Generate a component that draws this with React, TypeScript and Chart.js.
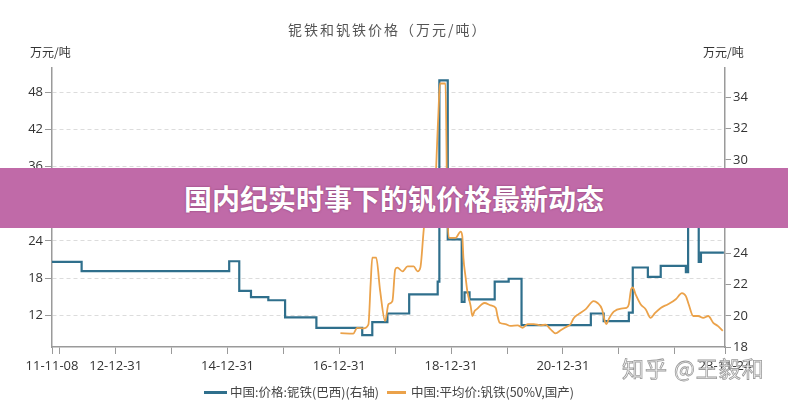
import React, { useEffect, useRef } from "react";
import { Chart, registerables } from "chart.js";

Chart.register(...registerables);

const chartTitle = "铌铁和钒铁价格（万元/吨）";
const unitLabel = "万元/吨";
const bannerText = "国内纪实时事下的钒价格最新动态";
const watermarkText = "知乎 @王毅和";
const niobiumName = "中国:价格:铌铁(巴西)(右轴)";
const vanadiumName = "中国:平均价:钒铁(50%V,国产)";

// time as decimal years (2013.00 = end of 2012-12-31)
const niobiumTime = [
  2011.86, 2012.39, 2015.03, 2015.21, 2015.42, 2015.73, 2016.03, 2016.59, 2017.41, 2017.59,
  2017.86, 2018.25, 2018.76, 2018.79, 2018.94, 2019.19, 2019.24, 2019.33, 2019.78, 2020.03,
  2020.26, 2021.5, 2021.73, 2022.18, 2022.25, 2022.52, 2022.75, 2023.2, 2023.24, 2023.43,
  2023.47, 2023.88,
];
const niobiumPrice = [
  23.46, 22.87, 23.5, 21.6, 21.2, 21.0, 19.9, 19.23, 18.76, 19.6,
  20.15, 21.37, 22.2, 35.1, 24.9, 20.9, 21.5, 21.06, 22.2, 22.38,
  19.4, 20.15, 19.66, 20.2, 23.1, 22.5, 23.2, 22.8, 26.0, 23.46,
  24.06, 24.06,
];

const vanadiumTime = [
  2017.02, 2017.25, 2017.32, 2017.43, 2017.52, 2017.56, 2017.59, 2017.66, 2017.73, 2017.82,
  2017.88, 2017.95, 2018.0, 2018.04, 2018.13, 2018.22, 2018.33, 2018.4, 2018.45, 2018.52,
  2018.58, 2018.68, 2018.77, 2018.8, 2018.9, 2018.93, 2018.96, 2019.08, 2019.17, 2019.2,
  2019.22, 2019.26, 2019.29, 2019.35, 2019.38, 2019.42, 2019.46, 2019.55, 2019.6, 2019.71,
  2019.8, 2019.83, 2019.87, 2019.97, 2020.06, 2020.19, 2020.28, 2020.37, 2020.48, 2020.6,
  2020.69, 2020.78, 2020.87, 2020.96, 2021.05, 2021.14, 2021.19, 2021.28, 2021.41, 2021.55,
  2021.62, 2021.7, 2021.75, 2021.78, 2021.82, 2021.91, 2022.04, 2022.14, 2022.18, 2022.22,
  2022.25, 2022.3, 2022.39, 2022.48, 2022.57, 2022.65, 2022.75, 2022.88, 2023.02, 2023.13,
  2023.2, 2023.25, 2023.33, 2023.42, 2023.51, 2023.6, 2023.69, 2023.77, 2023.86,
];
const vanadiumPrice = [
  9.15, 9.05, 10.0, 9.9, 10.5, 17.0, 21.3, 21.3, 16.0, 11.1,
  13.8, 14.3, 19.4, 19.7, 19.1, 19.9, 19.9, 19.1, 19.7, 26.6,
  27.8, 28.0, 44.0, 49.4, 49.4, 30.0, 24.5, 24.5, 25.5, 24.8,
  21.3, 18.1, 15.9, 13.5, 11.9, 12.7, 13.0, 13.8, 14.0, 13.6,
  13.2, 11.9, 10.8, 10.6, 10.3, 10.4, 10.0, 10.6, 10.6, 10.4,
  10.5, 9.75, 9.1, 9.6, 10.1, 10.6, 11.5, 12.2, 13.0, 14.3,
  14.0, 13.0, 11.1, 10.6, 11.4, 12.6, 13.1, 13.2, 13.8, 16.2,
  16.5, 15.4, 13.8, 13.0, 11.6, 12.4, 13.2, 13.8, 14.6, 15.6,
  15.1, 13.8, 11.9, 11.9, 11.6, 11.9, 10.8, 10.3, 9.5,
];

const xMin = 2011.86;
const xMax = 2023.9;
const xTickValues = [2011.86, 2012, 2013, 2014, 2015, 2016, 2017, 2018, 2019, 2020, 2021, 2022, 2023, 2023.9];
const xTickLabels = ["11-11-08", "", "12-12-31", "", "14-12-31", "", "16-12-31", "", "18-12-31", "", "20-12-31", "", "", "23-11-24"];
const leftTicks = [12, 18, 24, 30, 36, 42, 48];
const rightTicks = [18, 20, 22, 24, 26, 28, 30, 32, 34];

const BLUE = "#2f6f8c";
const ORANGE = "#eba24a";
const AXIS = "#9a9a9a";
const tickFont = { family: "'Open Sans', 'Noto Sans', sans-serif", size: 13 };

export default function App() {
  const canvasRef = useRef<HTMLCanvasElement | null>(null);

  useEffect(() => {
    const canvas = canvasRef.current;
    if (!canvas) return;
    const chart = new Chart(canvas, {
      type: "line",
      data: {
        datasets: [
          {
            label: niobiumName,
            data: niobiumTime.map((t, i) => ({ x: t, y: niobiumPrice[i] })),
            borderColor: BLUE,
            borderWidth: 2.2,
            stepped: true,
            pointRadius: 0,
            yAxisID: "yR",
            order: 1,
          },
          {
            label: vanadiumName,
            data: vanadiumTime.map((t, i) => ({ x: t, y: vanadiumPrice[i] })),
            borderColor: ORANGE,
            borderWidth: 1.8,
            cubicInterpolationMode: "monotone",
            pointRadius: 0,
            yAxisID: "yL",
            order: 0,
          },
        ],
      },
      options: {
        responsive: false,
        animation: false,
        layout: { padding: { top: 68, left: 0, right: 0, bottom: 0 } },
        plugins: { legend: { display: false }, tooltip: { enabled: false }, title: { display: false } },
        scales: {
          x: {
            type: "linear",
            min: xMin,
            max: xMax,
            afterBuildTicks: (s: any) => {
              s.ticks = xTickValues.map((v) => ({ value: v }));
            },
            afterFit: (s: any) => {
              s.height = 53;
            },
            ticks: {
              autoSkip: false,
              maxRotation: 0,
              minRotation: 0,
              align: "center",
              padding: 4,
              color: "#333",
              font: tickFont,
              callback: (_v: any, i: number) => xTickLabels[i],
            },
            grid: { drawOnChartArea: false, drawTicks: true, tickLength: 7, tickColor: AXIS },
            border: { color: AXIS, width: 1.5 },
          },
          yL: {
            type: "linear",
            position: "left",
            min: 6.9,
            max: 51.9,
            afterBuildTicks: (s: any) => {
              s.ticks = leftTicks.map((v) => ({ value: v }));
            },
            afterFit: (s: any) => {
              s.width = 52;
            },
            ticks: { color: "#333", font: tickFont, padding: 2 },
            grid: { color: "#dcdcdc", lineWidth: 1, drawTicks: true, tickLength: 7, tickColor: AXIS, tickWidth: 1 },
            border: { color: AXIS, width: 1.5, dash: [4, 3] },
          },
          yR: {
            type: "linear",
            position: "right",
            min: 18,
            max: 35.9,
            afterBuildTicks: (s: any) => {
              s.ticks = rightTicks.map((v) => ({ value: v }));
            },
            afterFit: (s: any) => {
              s.width = 63;
            },
            ticks: { color: "#333", font: tickFont, padding: 2 },
            grid: { drawOnChartArea: false, drawTicks: true, tickLength: 6, tickColor: AXIS },
            border: { color: AXIS, width: 1.5 },
          },
        },
      },
    } as any);
    return () => chart.destroy();
  }, []);

  const cjk = "'Noto Sans CJK SC', 'Noto Sans', sans-serif";

  return (
    <div style={{ position: "absolute", left: 0, top: 0, width: 788, height: 400, background: "#fff", overflow: "hidden" }}>
      <canvas ref={canvasRef} width={788} height={400} style={{ position: "absolute", left: 0, top: 0, width: 788, height: 400 }} />
      <div style={{ position: "absolute", left: 288, top: 20, fontFamily: cjk, fontSize: 14, letterSpacing: 2, color: "#555", whiteSpace: "nowrap", lineHeight: "18px" }}>
        {chartTitle}
      </div>
      <div style={{ position: "absolute", left: 30, top: 44, fontFamily: cjk, fontSize: 12, color: "#333", whiteSpace: "nowrap", lineHeight: "16px" }}>
        {unitLabel}
      </div>
      <div style={{ position: "absolute", left: 703, top: 44, fontFamily: cjk, fontSize: 12, color: "#333", whiteSpace: "nowrap", lineHeight: "16px" }}>
        {unitLabel}
      </div>
      <div style={{ position: "absolute", left: 0, top: 168, width: 788, height: 60, background: "rgb(192,106,168)", color: "#fff", fontFamily: cjk, fontWeight: 700, fontSize: 28, lineHeight: "60px", textAlign: "center", textShadow: "0 0 2px rgba(90,30,70,0.6)" }}>
        {bannerText}
      </div>
      <div style={{ position: "absolute", left: 204, top: 391, width: 23, height: 3, background: BLUE }} />
      <div style={{ position: "absolute", left: 230, top: 383, fontFamily: cjk, fontSize: 12.5, color: "#444", whiteSpace: "nowrap", lineHeight: "18px" }}>
        {niobiumName}
      </div>
      <div style={{ position: "absolute", left: 387, top: 391, width: 19, height: 3, background: ORANGE }} />
      <div style={{ position: "absolute", left: 411, top: 383, fontFamily: cjk, fontSize: 12.5, color: "#444", whiteSpace: "nowrap", lineHeight: "18px" }}>
        {vanadiumName}
      </div>
      <div style={{ position: "absolute", left: 622, top: 353, fontFamily: cjk, fontSize: 22, letterSpacing: 1, color: "rgba(250,250,250,0.92)", WebkitTextStroke: "0.8px rgba(130,130,130,0.8)", whiteSpace: "nowrap", lineHeight: "28px" } as any}>
        {watermarkText}
      </div>
    </div>
  );
}
